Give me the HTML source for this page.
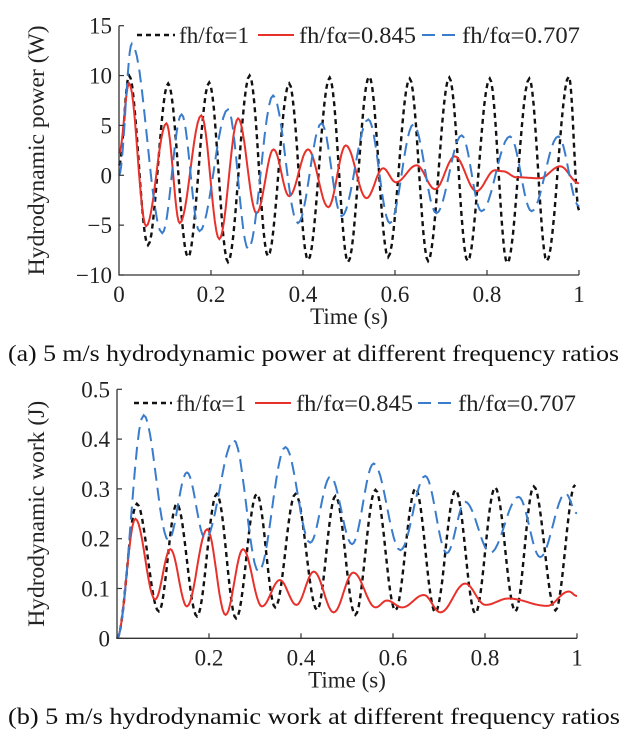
<!DOCTYPE html>
<html><head><meta charset="utf-8"><style>
html,body{margin:0;padding:0;background:#fff;}
svg{display:block;font-family:"Liberation Serif",serif;}
</style></head><body>
<svg id="fig" width="629" height="740" viewBox="0 0 629 740" xmlns="http://www.w3.org/2000/svg"></svg>
<script>
// ---------- Data (a) power ----------
const powerBlackT = [0,0.022,0.063,0.107,0.15,0.196,0.237,0.284,0.324,0.37,0.411,0.458,0.498,0.544,0.585,0.632,0.672,0.718,0.758,0.806,0.844,0.892,0.93,0.978,1.0];
const powerBlackV = [1,10,-7,9.2,-8.2,9.3,-8.7,10,-8.1,9.2,-8.5,9.8,-8.7,9.9,-8.2,9.7,-8.6,9.8,-8.6,9.7,-8.8,9.7,-8.6,9.9,-3.5];
const powerRedT = [0,0.022,0.059,0.103,0.132,0.179,0.218,0.259,0.299,0.336,0.37,0.411,0.455,0.493,0.538,0.574,0.602,0.647,0.687,0.73,0.777,0.817,0.835,0.864,0.915,0.959,1.0];
const powerRedV = [2.2,9.2,-5.1,5.2,-4.8,6.0,-6.4,5.7,-3.8,2.6,-2.1,2.6,-3.2,3.0,-2.3,0.7,-0.7,1.0,-1.4,1.9,-1.6,0.5,0.4,-0.2,-0.3,0.9,-0.8];
const powerBlueT = [0,0.028,0.094,0.136,0.175,0.237,0.281,0.335,0.389,0.44,0.484,0.542,0.589,0.64,0.69,0.745,0.788,0.85,0.897,0.955,1.0];
const powerBlueV = [0,13.2,-5.8,6.1,-5.6,6.6,-7.4,8.0,-4.8,5.2,-4.1,5.6,-4.8,5.1,-3.8,4.0,-3.6,3.9,-3.6,3.9,-3.1];
const powerYTicks = [15,10,5,0,-5,-10];
const xTicks = [0.2,0.4,0.6,0.8,1];
const xTickLabels = ["0.2","0.4","0.6","0.8","1"];
// ---------- Data (b) work ----------
const workBlackT = [0,0.043,0.091,0.13,0.174,0.217,0.259,0.304,0.344,0.388,0.435,0.475,0.518,0.562,0.605,0.649,0.692,0.736,0.779,0.822,0.866,0.906,0.953,0.996];
const workBlackV = [0,0.27,0.054,0.27,0.044,0.29,0.04,0.29,0.062,0.29,0.057,0.286,0.047,0.298,0.056,0.301,0.052,0.298,0.05,0.303,0.054,0.305,0.056,0.308];
const workRedT = [0,0.04,0.083,0.116,0.152,0.196,0.236,0.274,0.315,0.354,0.39,0.428,0.471,0.514,0.562,0.587,0.62,0.667,0.703,0.757,0.801,0.851,0.935,0.982,1.0];
const workRedV = [0,0.24,0.078,0.179,0.064,0.219,0.047,0.179,0.064,0.117,0.067,0.134,0.052,0.132,0.062,0.076,0.062,0.087,0.052,0.11,0.067,0.08,0.065,0.094,0.085];
const workBlueT = [0,0.058,0.112,0.152,0.192,0.254,0.308,0.366,0.42,0.464,0.511,0.558,0.616,0.67,0.717,0.757,0.812,0.873,0.92,0.975,1.0];
const workBlueV = [0,0.448,0.197,0.333,0.2,0.398,0.134,0.384,0.192,0.325,0.189,0.351,0.177,0.326,0.171,0.274,0.172,0.284,0.163,0.291,0.251];
const workYTicks = [0.5,0.4,0.3,0.2,0.1,0];
const workYLabels = ["0.5","0.4","0.3","0.2","0.1","0"];

const NS="http://www.w3.org/2000/svg";
const svg=document.getElementById('fig');
const FS=23;
function mk(tag,attrs,parent){const e=document.createElementNS(NS,tag);for(const k in attrs)e.setAttribute(k,attrs[k]);(parent||svg).appendChild(e);return e;}
function txt(s,attrs,parent){const e=mk('text',attrs,parent);e.textContent=s;return e;}

function cosPath(T,V,sx,sy){
  let d="M"+sx(T[0]).toFixed(1)+","+sy(V[0]).toFixed(1);
  for(let i=0;i<T.length-1;i++){
    const n=12;
    for(let k=1;k<=n;k++){
      const f=k/n, t=T[i]+(T[i+1]-T[i])*f;
      const w=(1-Math.cos(Math.PI*f))/2;
      const v=V[i]+(V[i+1]-V[i])*w;
      d+="L"+sx(t).toFixed(1)+","+sy(v).toFixed(1);
    }
  }
  return d;
}

function chart(cfg){
  const g=mk('g',{});
  
  
  const sx=t=>cfg.x0+(cfg.x1-cfg.x0)*t;
  const sy=v=>cfg.yTop+(cfg.yBot-cfg.yTop)*(cfg.vMax-v)/(cfg.vMax-cfg.vMin);
  const series=[
    {T:cfg.bT,V:cfg.bV,c:'#111',w:2.4,da:'5,4',n:'series-fh-fa-1'},
    {T:cfg.rT,V:cfg.rV,c:'#e8312b',w:2,da:'',n:'series-fh-fa-0845'},
    {T:cfg.uT,V:cfg.uV,c:'#3a7ccc',w:2,da:'13,7',n:'series-fh-fa-0707'}];
  series.forEach(s=>{
    const p=mk('path',{d:cosPath(s.T,s.V,sx,sy),fill:'none',stroke:s.c,'stroke-width':s.w,'stroke-dasharray':s.da},g);
    
    
  });
  const ax=mk('path',{d:`M${cfg.x0},${cfg.yTop}V${cfg.yBot}H${cfg.x1}`,fill:'none',stroke:'#333','stroke-width':1.3},g);
  
  
  cfg.yTicks.forEach((v,i)=>{
    const y=sy(v);
    mk('line',{x1:cfg.x0,x2:cfg.x0+5,y1:y,y2:y,stroke:'#333','stroke-width':1.2},g);
    const t=txt(cfg.yLabels[i],{x:cfg.x0-7,y:y+8,'text-anchor':'end','font-size':FS,fill:'#222'},g);
    
    
  });
  xTicks.forEach((v,i)=>{
    const x=sx(v);
    mk('line',{x1:x,x2:x,y1:cfg.yBot,y2:cfg.yBot-5,stroke:'#333','stroke-width':1.2},g);
    const t=txt(xTickLabels[i],{x:x,y:cfg.yBot+27,'text-anchor':'middle','font-size':FS,fill:'#222'},g);
    
    
  });
  if(cfg.zeroLabel){const t=txt('0',{x:cfg.x0,y:cfg.yBot+27,'text-anchor':'middle','font-size':FS,fill:'#222'},g);
    
    }
  const yt=txt(cfg.yTitle,{x:0,y:0,transform:`translate(${cfg.yTitleX},${(cfg.yTop+cfg.yBot)/2}) rotate(-90)`,'text-anchor':'middle','font-size':FS,fill:'#222',textLength:cfg.yTitleLen,lengthAdjust:'spacingAndGlyphs'},g);
  
  
  const xt=txt('Time (s)',{x:(cfg.x0+cfg.x1)/2,y:cfg.yBot+49,'text-anchor':'middle','font-size':FS,fill:'#222'},g);
  
  
  const lg=mk('g',{},g);
  
  
  const names=['fh/fα=1','fh/fα=0.845','fh/fα=0.707'];
  series.forEach((s,i)=>{
    const L=cfg.leg[i];
    const e=mk('g',{},lg);
    
    
    mk('line',{x1:L[0],x2:L[1],y1:cfg.legY,y2:cfg.legY,stroke:s.c,'stroke-width':s.w,'stroke-dasharray':s.da},e);
    txt(names[i],{x:L[2],y:cfg.legY+8,'font-size':FS,fill:'#222',textLength:L[3],lengthAdjust:'spacingAndGlyphs'},e);
  });
  const cap=txt(cfg.caption,{x:8,y:cfg.capY,'font-size':FS,fill:'#111',textLength:cfg.capLen,lengthAdjust:'spacingAndGlyphs'});
  
  
}

chart({name:'power-chart',x0:119,x1:579,yTop:25.7,yBot:275,vMax:15,vMin:-10,
  bT:powerBlackT,bV:powerBlackV,rT:powerRedT,rV:powerRedV,uT:powerBlueT,uV:powerBlueV,
  yTicks:powerYTicks,yLabels:["15","10","5","0","−5","−10"],zeroLabel:true,
  yTitle:'Hydrodynamic power (W)',yTitleX:44,yTitleLen:250,legY:35,leg:[[137,175,179,70],[258,294,299,117],[422,458,462,118]],
  caption:'(a) 5 m/s hydrodynamic power at different frequency ratios',capY:361,capLen:611});
chart({name:'work-chart',x0:117,x1:577,yTop:389.3,yBot:638.3,vMax:0.5,vMin:0,
  bT:workBlackT,bV:workBlackV,rT:workRedT,rV:workRedV,uT:workBlueT,uV:workBlueV,
  yTicks:workYTicks,yLabels:workYLabels,zeroLabel:false,
  yTitle:'Hydrodynamic work (J)',yTitleX:44,yTitleLen:226,legY:403,leg:[[134,172,176,70],[255,291,296,117],[418,455,458,118]],
  caption:'(b) 5 m/s hydrodynamic work at different frequency ratios',capY:724,capLen:612});
</script>
</body></html>
